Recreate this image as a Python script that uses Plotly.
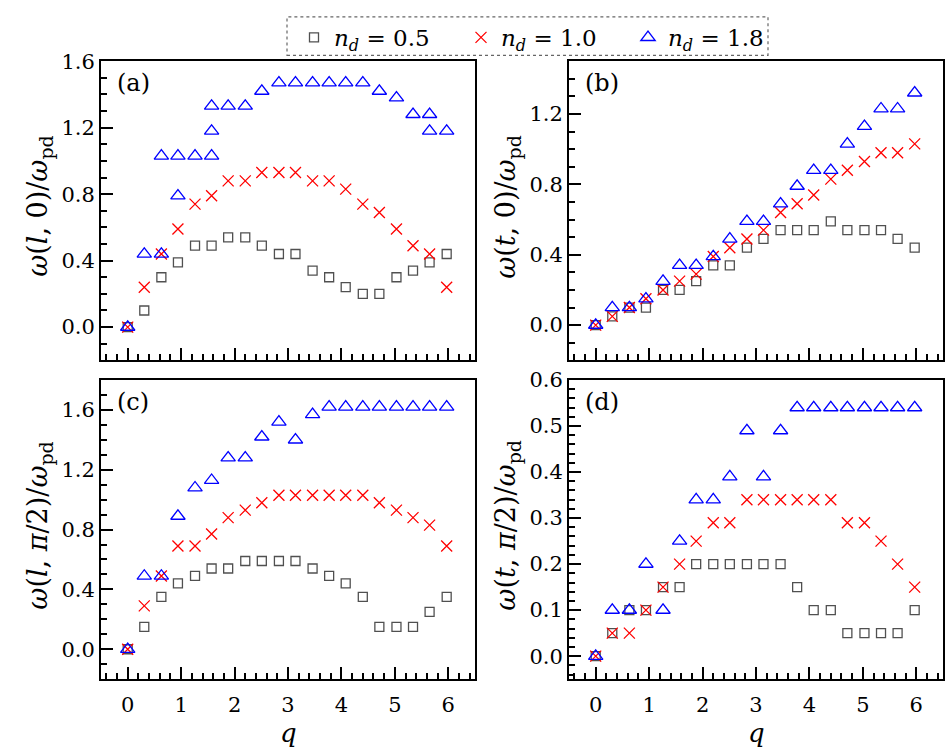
import plotly.graph_objects as go

# q values (k*pi/10)
Q = [0.00, 0.31, 0.63, 0.94, 1.26, 1.57, 1.88, 2.20, 2.51, 2.83,
     3.14, 3.46, 3.77, 4.08, 4.40, 4.71, 5.03, 5.34, 5.65, 5.97]
ALL = list(range(20))

# panel (a): omega(l,0)/omega_pd
SQ_A = [0, 0.10, 0.30, 0.39, 0.49, 0.49, 0.54, 0.54, 0.49, 0.44,
        0.44, 0.34, 0.30, 0.24, 0.20, 0.20, 0.30, 0.34, 0.39, 0.44]
X_A = [0, 0.24, 0.44, 0.59, 0.74, 0.79, 0.88, 0.88, 0.93, 0.93,
       0.93, 0.88, 0.88, 0.83, 0.74, 0.69, 0.59, 0.49, 0.44, 0.24]
K_TRI_A = [0, 1, 2, 2, 3, 3, 4, 5, 5, 5, 6, 7, 8, 9, 10, 11, 12, 13, 14, 15, 16, 17, 18, 18, 19]
TRI_A = [0, 0.44, 0.44, 1.03, 1.03, 0.79, 1.03, 1.03, 1.18, 1.33, 1.33, 1.33, 1.42,
         1.47, 1.47, 1.47, 1.47, 1.47, 1.47, 1.42, 1.38, 1.28, 1.28, 1.18, 1.18]

# panel (b): omega(t,0)/omega_pd
SQ_B = [0, 0.05, 0.10, 0.10, 0.20, 0.20, 0.25, 0.34, 0.34, 0.44,
        0.49, 0.54, 0.54, 0.54, 0.59, 0.54, 0.54, 0.54, 0.49, 0.44]
X_B = [0, 0.05, 0.10, 0.15, 0.20, 0.25, 0.29, 0.39, 0.44, 0.49,
       0.54, 0.64, 0.69, 0.74, 0.83, 0.88, 0.93, 0.98, 0.98, 1.03]
TRI_B = [0, 0.10, 0.10, 0.15, 0.25, 0.34, 0.34, 0.39, 0.49, 0.59,
         0.59, 0.69, 0.79, 0.88, 0.88, 1.03, 1.13, 1.23, 1.23, 1.32]

# panel (c): omega(l,pi/2)/omega_pd
SQ_C = [0, 0.15, 0.35, 0.44, 0.49, 0.54, 0.54, 0.59, 0.59, 0.59,
        0.59, 0.54, 0.49, 0.44, 0.35, 0.15, 0.15, 0.15, 0.25, 0.35]
X_C = [0, 0.29, 0.49, 0.69, 0.69, 0.77, 0.88, 0.93, 0.98, 1.03,
       1.03, 1.03, 1.03, 1.03, 1.03, 0.98, 0.93, 0.88, 0.83, 0.69]
TRI_C = [0, 0.49, 0.49, 0.89, 1.08, 1.13, 1.28, 1.28, 1.42, 1.52,
         1.40, 1.57, 1.62, 1.62, 1.62, 1.62, 1.62, 1.62, 1.62, 1.62]

# panel (d): omega(t,pi/2)/omega_pd
SQ_D = [0, 0.05, 0.10, 0.10, 0.15, 0.15, 0.20, 0.20, 0.20, 0.20,
        0.20, 0.20, 0.15, 0.10, 0.10, 0.05, 0.05, 0.05, 0.05, 0.10]
X_D = [0, 0.05, 0.05, 0.10, 0.15, 0.20, 0.25, 0.29, 0.29, 0.34,
       0.34, 0.34, 0.34, 0.34, 0.34, 0.29, 0.29, 0.25, 0.20, 0.15]
TRI_D = [0, 0.10, 0.10, 0.20, 0.10, 0.25, 0.34, 0.34, 0.39, 0.49,
         0.39, 0.49, 0.54, 0.54, 0.54, 0.54, 0.54, 0.54, 0.54, 0.54]

LEGEND_NAMES = ["<i>n</i><sub><i>d</i></sub>\u00a0=\u00a00.5",
                "<i>n</i><sub><i>d</i></sub>\u00a0=\u00a01.0",
                "<i>n</i><sub><i>d</i></sub>\u00a0=\u00a01.8"]
PANEL_LABELS = ["(a)", "(b)", "(c)", "(d)"]
Y_TITLES = ["<i>ω</i>(<i>l</i>, 0)/<i>ω</i><sub>pd</sub>",
            "<i>ω</i>(<i>t</i>, 0)/<i>ω</i><sub>pd</sub>",
            "<i>ω</i>(<i>l</i>, <i>π</i>/2)/<i>ω</i><sub>pd</sub>",
            "<i>ω</i>(<i>t</i>, <i>π</i>/2)/<i>ω</i><sub>pd</sub>"]

FONT = "DejaVu Serif"
W, H = 951, 750

panels = [
    (SQ_A, X_A, K_TRI_A, TRI_A),
    (SQ_B, X_B, ALL, TRI_B),
    (SQ_C, X_C, ALL, TRI_C),
    (SQ_D, X_D, ALL, TRI_D),
]

# pixel boxes [left, right, top, bottom]
boxes = [(101, 475, 50, 354), (569, 943, 50, 354),
         (101, 475, 374, 678), (569, 943, 374, 678)]
yranges = [(-0.2, 1.6), (-0.2, 1.5), (-0.2, 1.8), (-0.05, 0.6)]
ydticks = [(0.4, 0.1), (0.4, 0.1), (0.4, 0.1), (0.1, 0.02)]

fig = go.Figure()
for i, (sq, xx, ktri, tri) in enumerate(panels):
    xa = "x" if i == 0 else f"x{i+1}"
    ya = "y" if i == 0 else f"y{i+1}"
    show = (i == 0)
    fig.add_trace(go.Scatter(
        x=[Q[k] for k in ALL], y=sq, mode="markers", name=LEGEND_NAMES[0],
        marker=dict(symbol="square-open", size=9, color="#505050", line=dict(width=1.3, color="#505050")),
        xaxis=xa, yaxis=ya, showlegend=show, legendgroup="g1"))
    fig.add_trace(go.Scatter(
        x=[Q[k] for k in ALL], y=xx, mode="markers", name=LEGEND_NAMES[1],
        marker=dict(symbol="x-thin", size=11, color="#ff0000", line=dict(width=1.3, color="#ff0000")),
        xaxis=xa, yaxis=ya, showlegend=show, legendgroup="g2"))
    fig.add_trace(go.Scatter(
        x=[Q[k] for k in ktri], y=tri, mode="markers", name=LEGEND_NAMES[2],
        marker=dict(symbol="triangle-up-open", size=12.5, color="#0000ff", line=dict(width=1.3, color="#0000ff")),
        xaxis=xa, yaxis=ya, showlegend=show, legendgroup="g3"))

axis_common = dict(showline=True, linecolor="black", linewidth=2, mirror=True,
                   ticks="inside", tickwidth=2, tickcolor="black", ticklen=12,
                   showgrid=False, zeroline=False,
                   tickfont=dict(family=FONT, size=21, color="black"))
layout = {}
annotations = []
for i, (l, r, t, b) in enumerate(boxes):
    xk = "xaxis" if i == 0 else f"xaxis{i+1}"
    yk = "yaxis" if i == 0 else f"yaxis{i+1}"
    ya = "y" if i == 0 else f"y{i+1}"
    xa = "x" if i == 0 else f"x{i+1}"
    layout[xk] = dict(axis_common, domain=[l / W, r / W], range=[-0.5, 6.5],
                      anchor=ya, tickmode="linear", tick0=0, dtick=1,
                      showticklabels=(i >= 2), ticklabelstandoff=6,
                      minor=dict(ticks="inside", ticklen=6, tickwidth=2, tickcolor="black", dtick=0.2, tick0=0))
    dmaj, dmin = ydticks[i]
    layout[yk] = dict(axis_common, domain=[1 - b / H, 1 - t / H], range=list(yranges[i]),
                      anchor=xa, tickmode="linear", tick0=0, dtick=dmaj, tickformat=".1f",
                      minor=dict(ticks="inside", ticklen=6, tickwidth=2, tickcolor="black", dtick=dmin, tick0=0))
    # panel label
    annotations.append(dict(text=PANEL_LABELS[i], xref="paper", yref="paper",
                            x=(l + 14) / W, y=1 - (t + 6) / H, xanchor="left", yanchor="top",
                            showarrow=False, font=dict(family=FONT, size=24, color="black")))
    # y title
    annotations.append(dict(text=Y_TITLES[i], xref="paper", yref="paper",
                            x=(l - 61) / W, y=1 - ((t + b) / 2 - 4) / H, xanchor="center", yanchor="middle",
                            textangle=-90, showarrow=False,
                            font=dict(family=FONT, size=27, color="black")))
    if i >= 2:
        annotations.append(dict(text="<i>q</i>", xref="paper", yref="paper",
                                x=(l + r) / 2 / W, y=0.0, xanchor="center", yanchor="bottom",
                                showarrow=False, font=dict(family=FONT, size=26, color="black")))

fig.update_layout(
    width=W, height=H, margin=dict(l=0, r=0, t=0, b=0),
    paper_bgcolor="white", plot_bgcolor="white",
    annotations=annotations,
    legend=dict(orientation="h", x=294 / W, xanchor="left", y=1 - 4 / H, yanchor="top",
                font=dict(family=FONT, size=23, color="black"), bgcolor="rgba(0,0,0,0)",
                borderwidth=0, entrywidth=122, entrywidthmode="pixels"),
    shapes=[dict(type="rect", xref="paper", yref="paper",
                 x0=287 / W, x1=768 / W, y0=1 - 44 / H, y1=1 - 5 / H,
                 line=dict(color="#666666", width=1.2, dash="dot"))],
    **layout,
)

fig.write_html("out.html")
